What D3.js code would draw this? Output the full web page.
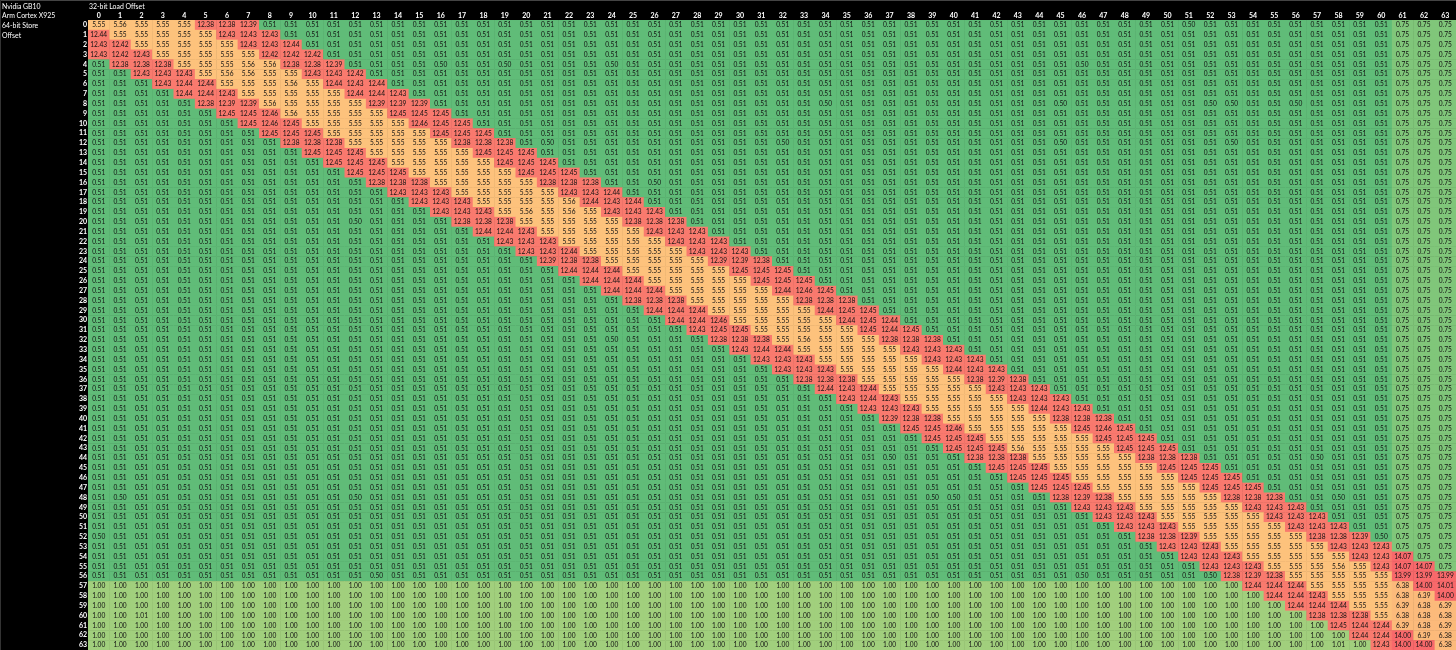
<!DOCTYPE html>
<html><head><meta charset="utf-8">
<script src="https://cdn.jsdelivr.net/npm/d3@7/dist/d3.min.js"></script>
<style>
html,body{margin:0;padding:0;background:#000;overflow:hidden}
svg{display:block;filter:blur(0.55px)}
text{font-family:Lato,"Open Sans",sans-serif}
</style></head><body><div id="chart"></div>
<script>
const headerLines = ["Nvidia GB10","Arm Cortex X925","64-bit Store","Offset"];
const axisTitle = "32-bit Load Offset";
const loadOffsets = d3.range(64).map(String);
const storeOffsets = d3.range(64).map(String);
// one line per store offset; "v*n" = value v repeated in n adjacent cells
const rowRuns = [
"5.55 5.56 5.55*3 12.38*2 12.39 0.51*53 0.75*3",
"12.44 5.55*5 12.43*3 0.51*52 0.75*3",
"12.43 12.42 5.55*5 12.43*2 12.44 0.51*51 0.75*3",
"12.43 12.42 12.43 5.55*5 12.42*3 0.51*50 0.75*3",
"0.51 12.38*3 5.55*3 5.56*2 12.38*2 12.39 0.51*49 0.75*3",
"0.51*2 12.43*3 5.55 5.56*2 5.55*2 12.43*2 12.42 0.51*48 0.75*3",
"0.51*3 12.43 12.44*2 5.55*3 5.56 5.55 12.44 12.43 12.44 0.51*47 0.75*3",
"0.51*4 12.44*2 12.43 5.55*5 12.44*2 12.43 0.51*46 0.75*3",
"0.51*5 12.38 12.39*2 5.56 5.55*4 12.39*3 0.51*45 0.75*3",
"0.51*6 12.45*2 12.46 5.56 5.55*4 12.45*3 0.51*44 0.75*3",
"0.51*7 12.45 12.46 12.45 5.55*5 12.46 12.45*2 0.51*43 0.75*3",
"0.51*8 12.45*3 5.55*5 12.45*3 0.51*42 0.75*3",
"0.51*9 12.38*3 5.55*5 12.38*3 0.51*41 0.75*3",
"0.51*10 12.45*3 5.55*5 12.45*3 0.51*40 0.75*3",
"0.51*11 12.45*3 5.55*5 12.45*3 0.51*39 0.75*3",
"0.51*12 12.45*3 5.55*5 12.45*3 0.51*38 0.75*3",
"0.51*13 12.38*3 5.55*5 12.38*3 0.51*37 0.75*3",
"0.51*14 12.43*3 5.55*5 12.43*2 12.44 0.51*36 0.75*3",
"0.51*15 12.43*3 5.55*4 5.56 12.44 12.43 12.44 0.51*35 0.75*3",
"0.51*16 12.43*3 5.55 5.56 5.55 5.56 5.55 12.43*3 0.51*34 0.75*3",
"0.51*17 12.38*3 5.55*5 12.38*3 0.51*33 0.75*3",
"0.51*18 12.44*2 12.43 5.55*5 12.43*3 0.51*32 0.75*3",
"0.51*19 12.43*3 5.55*5 12.43*3 0.51*31 0.75*3",
"0.51*20 12.43*2 12.44 5.55*5 12.43*3 0.51*30 0.75*3",
"0.51*21 12.39 12.38*2 5.55*5 12.39*2 12.38 0.51*29 0.75*3",
"0.51*22 12.44*3 5.55*5 12.45*3 0.51*28 0.75*3",
"0.51*23 12.44*3 5.55*5 12.45*3 0.51*27 0.75*3",
"0.51*24 12.44*3 5.55*5 12.44 12.46 12.45 0.51*26 0.75*3",
"0.51*25 12.38*3 5.55*5 12.38*3 0.51*25 0.75*3",
"0.51*26 12.44*3 5.55*5 12.44 12.45*2 0.51*24 0.75*3",
"0.51*27 12.44*2 12.46 5.55*5 12.44 12.45 12.44 0.51*23 0.75*3",
"0.51*28 12.43 12.45*2 5.55*5 12.45 12.44 12.45 0.51*22 0.75*3",
"0.51*29 12.38*3 5.55 5.56 5.55*3 12.38*3 0.51*21 0.75*3",
"0.51*30 12.43 12.44*2 5.55*5 12.43*3 0.51*20 0.75*3",
"0.51*31 12.43*3 5.55*5 12.43*3 0.51*19 0.75*3",
"0.51*32 12.43*3 5.55*5 12.44 12.43*2 0.51*18 0.75*3",
"0.51*33 12.38*3 5.55*5 12.38 12.39 12.38 0.51*17 0.75*3",
"0.51*34 12.44 12.43 12.44 5.55*5 12.43*3 0.51*16 0.75*3",
"0.51*35 12.43 12.44 12.43 5.55*5 12.43*3 0.51*15 0.75*3",
"0.51*36 12.43*3 5.55*5 12.44 12.43*2 0.51*14 0.75*3",
"0.51*37 12.39 12.38*2 5.55*5 12.38*3 0.51*13 0.75*3",
"0.51*38 12.45*2 12.46 5.55*5 12.45 12.46 12.45 0.51*12 0.75*3",
"0.51*39 12.45*3 5.55*5 12.45*3 0.51*11 0.75*3",
"0.51*40 12.45*3 5.56 5.55*4 12.45*3 0.51*10 0.75*3",
"0.51*41 12.38*3 5.55*5 12.38*3 0.51*9 0.75*3",
"0.51*42 12.45*3 5.55*5 12.45*3 0.51*8 0.75*3",
"0.51*43 12.45*3 5.55*5 12.45*3 0.51*7 0.75*3",
"0.51*44 12.45*3 5.55*5 12.45*3 0.51*6 0.75*3",
"0.51*45 12.38 12.39 12.38 5.55*5 12.38*3 0.51*5 0.75*3",
"0.51*46 12.43*3 5.55*5 12.43*3 0.51*4 0.75*3",
"0.51*47 12.43*3 5.55*5 12.43*3 0.51*3 0.75*3",
"0.51*48 12.43*3 5.55*5 12.43*3 0.51*2 0.75*3",
"0.51*49 12.38*2 12.39 5.55*5 12.38*2 12.39 0.51 0.75*3",
"0.51*50 12.43*3 5.55*5 12.43*3 0.75*3",
"0.51*51 12.43*3 5.55*5 12.43*2 14.07 0.75*2",
"0.51*52 12.43*3 5.55*3 5.56 5.55 12.43 14.07*2 0.75",
"0.51*53 12.38 12.39 12.38 5.55*5 13.99*3",
"1.00*54 12.44*3 5.55*4 6.38 14.00 14.01",
"1.00*55 12.44*2 12.43 5.55*3 6.38 6.39 14.00",
"1.00*56 12.44*3 5.55*2 6.39 6.38 6.39",
"1.00*57 12.38*3 5.55 6.38*3",
"1.00*58 12.45 12.44*2 6.39 6.38 6.39",
"1.00*59 12.44*2 14.00 6.39 6.38",
"1.00*58 1.01 1.00 12.43 14.00*2 6.38"
];
// isolated cells that read differently from their run: [store, load, value]
const outliers = [
[0,51,0.50],[4,16,0.50],[4,19,0.50],[4,24,0.50],[4,46,0.50],
[8,34,0.50],[8,45,0.50],[8,52,0.50],[8,53,0.50],[8,56,0.50],
[12,21,0.50],[12,32,0.50],[12,45,0.50],[12,53,0.50],[16,26,0.50],
[20,12,0.50],[32,24,0.50],[44,37,0.50],[44,57,0.50],
[48,1,0.50],[48,12,0.50],[48,39,0.50],[48,40,0.50],[48,58,0.50],
[52,0,0.50],[52,60,0.50],[56,13,0.50],[56,46,0.50],[56,52,0.50],
[60,2,1.01]
];
const colorStops = ["#5FBC78","#FFEB84","#F8696B"];
const colorDomain = [0.5,1.72,14];

const W=1456,H=650;
const values = rowRuns.map(s=>s.split(" ").flatMap(t=>{
  const [v,n]=t.split("*"); return Array(+(n||1)).fill(+v);
}));
outliers.forEach(([r,c,v])=>{values[r][c]=v;});
const cells = values.flatMap((row,r)=>row.map((v,c)=>({r,c,v})));

const x=d3.scaleBand().domain(loadOffsets).range([88,W]);
const y=d3.scaleBand().domain(storeOffsets).range([20,650]);
const color=d3.scaleLinear().domain(colorDomain).range(colorStops).interpolate(d3.interpolateRgb);

const svg=d3.select("#chart").append("svg").attr("width",W).attr("height",H);
svg.append("rect").attr("width",W).attr("height",H).attr("fill","#000");
svg.append("rect").attr("width",W).attr("height",1).attr("fill","#444");
svg.append("rect").attr("width",1).attr("height",H).attr("fill","#333");

const g=svg.selectAll("g.cell").data(cells).join("g").attr("class","cell");
g.append("rect").attr("x",d=>x(String(d.c))).attr("y",d=>y(String(d.r)))
 .attr("width",x.bandwidth()+0.5).attr("height",y.bandwidth()+0.5).attr("fill",d=>color(d.v));
g.append("text").attr("x",d=>x(String(d.c))+x.bandwidth()/2).attr("y",d=>y(String(d.r))+y.bandwidth()/2)
 .attr("dy","0.35em").attr("text-anchor","middle").attr("font-size",6.6).attr("fill","#111")
 .text(d=>d.v.toFixed(2));

const ax=svg.append("g").attr("transform","translate(0,19)").call(d3.axisTop(x).tickSize(0).tickPadding(1));
ax.select(".domain").remove();
ax.selectAll("text").attr("fill","#fff").attr("font-size",7).attr("font-weight",700).style("font-family","Lato");
const ay=svg.append("g").attr("transform","translate(87,0)").call(d3.axisLeft(y).tickSize(0).tickPadding(0));
ay.select(".domain").remove();
ay.selectAll("text").attr("fill","#fff").attr("font-size",7).attr("font-weight",700).style("font-family","Lato");

svg.selectAll("text.hdr").data(headerLines).join("text").attr("class","hdr")
 .attr("x",2).attr("y",(d,i)=>i*9.84+8.5).attr("font-size",6.9).attr("fill","#fff").text(d=>d);
svg.append("text").attr("x",89).attr("y",8.5).attr("font-size",6.9).attr("fill","#fff").text(axisTitle);
</script></body></html>
